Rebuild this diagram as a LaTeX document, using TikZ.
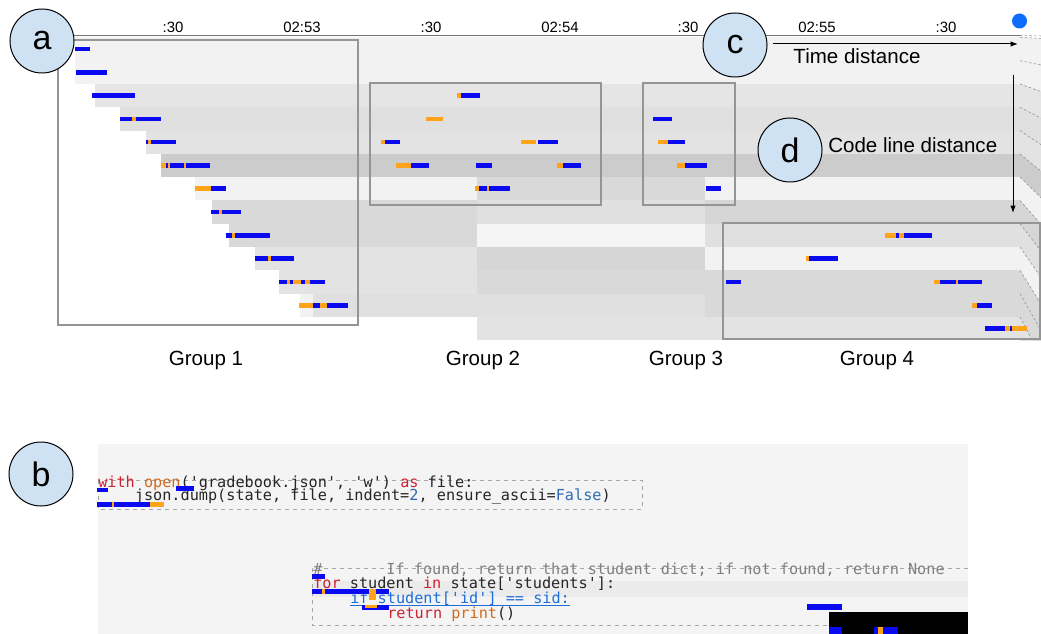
\documentclass[tikz,border=0pt]{standalone}
\usepackage{fontspec}
\setmainfont{Liberation Sans}
\newfontfamily\codefont{DejaVu Sans Mono}
\usepackage{tikz}
\usetikzlibrary{arrows.meta}
\definecolor{tlblue}{HTML}{0A0AF0}
\definecolor{tlorange}{HTML}{FFA319}
\definecolor{tlgrey}{HTML}{959595}
\definecolor{tlbadge}{HTML}{CFE2F3}
\definecolor{tldot}{HTML}{0D6EFD}
\definecolor{tlpanel}{HTML}{F4F4F4}
\definecolor{tlkey}{HTML}{CC2233}
\definecolor{tlfun}{HTML}{D2691E}
\definecolor{tlnum}{HTML}{2E6DB4}
\definecolor{tlcomment}{HTML}{808080}
\definecolor{tlcond}{HTML}{1E6FD9}
\newcommand{\rowc}[1]{(49+23.3*(#1-1))}
\newcommand{\tlband}[4]{\fill[black!#4] (#1,{37.4+23.3*(#3-1)}) rectangle (#2,{37.4+23.3*#3});}
\newcommand{\tlb}[3]{\fill[tlblue] (#1,{\rowc{#3}-2.3}) rectangle (#2,{\rowc{#3}+2.3});}
\newcommand{\tlo}[3]{\fill[tlorange] (#1,{\rowc{#3}-2.3}) rectangle (#2,{\rowc{#3}+2.3});}
\newcommand{\sq}{\textquotesingle}
\tikzset{
  tick/.style={font=\fontsize{11.2}{13}\selectfont},
  caption/.style={font=\fontsize{15.4}{18}\selectfont},
  badge/.style={circle,draw=black,fill=tlbadge,line width=0.75pt,minimum size=48pt,font=\fontsize{25.5}{28}\selectfont},
  grpbox/.style={draw=tlgrey,line width=1.5pt},
  codeln/.style={anchor=base west,text=black!85,font=\codefont\fontsize{11.4}{13}\selectfont},
  codedash/.style={draw=black!35,line width=0.6pt,dash pattern=on 3pt off 3pt},
  distarrow/.style={-{Latex[length=5.5pt,width=4pt]},line width=0.75pt}
}
\begin{document}
\begin{tikzpicture}[x=0.75pt,y=-0.75pt, every node/.style={inner sep=0pt}]
\useasboundingbox (0,0) rectangle (1041,634);
\fill[white] (0,0) rectangle (1041,634);
\tlband{75}{1020}{1}{5}
\tlband{75}{1020}{2}{5}
\tlband{95}{1020}{3}{10}
\tlband{120}{1020}{4}{12}
\tlband{146}{1020}{5}{11}
\tlband{161}{1020}{6}{20}
\tlband{195}{477}{7}{5} \tlband{477}{705}{7}{15} \tlband{705}{1020}{7}{5}
\tlband{212}{477}{8}{15} \tlband{477}{705}{8}{12} \tlband{705}{1020}{8}{16}
\tlband{229}{477}{9}{15} \tlband{477}{705}{9}{4} \tlband{705}{1020}{9}{12}
\tlband{255}{477}{10}{11} \tlband{477}{705}{10}{16} \tlband{705}{1020}{10}{5}
\tlband{279}{477}{11}{11} \tlband{477}{705}{11}{15} \tlband{705}{1020}{11}{15}
\tlband{300}{313}{12}{5} \tlband{313}{477}{12}{12} \tlband{477}{705}{12}{12} \tlband{705}{1020}{12}{15}
\tlband{477}{1020}{13}{11}
\begin{scope}
\clip (1020,35) rectangle (1041,340);
\foreach \k/\s in {1/5,2/5,3/10,4/12,5/11,6/20,7/5,8/16,9/12,10/5,11/15,12/15,13/11}{
  \pgfmathsetmacro\yt{37.4+23.3*(\k-1)}
  \pgfmathsetmacro\yb{\yt+23.3}
  \fill[black!\s] (1020,\yt) -- (1041,{\yt+1+0.14*(\yt-37)}) -- (1041,{\yb+1+0.14*(\yb-37)}) -- (1020,\yb) -- cycle;
  \draw[black!45,line width=0.4pt,dash pattern=on 2pt off 1.5pt] (1020,\yt) -- (1041,{\yt+1+0.14*(\yt-37)});
}
\end{scope}
\draw[black!55,line width=0.8pt] (58,35.5) -- (1020,35.5);
\draw[black!45,line width=0.4pt,dash pattern=on 2pt off 1.5pt] (1020,35.5) -- (1041,36);
\foreach \x/\t [count=\i] in {173/:30,302/02:53,431/:30,560/02:54,688/:30,817/02:55,946/:30}
  \node[tick] (tk\i) at (\x,27) {\t};
\node[circle,fill=tldot,minimum size=11.25pt] (now) at (1019.5,21) {};
\tlb{75}{90}{1}
\tlb{76}{107}{2}
\tlb{92}{135}{3}
\tlb{120}{161}{4} \tlo{132}{136}{4}
\tlb{146}{176}{5} \tlo{148}{151}{5}
\tlb{161}{210}{6} \tlo{161}{166}{6} \tlo{168}{170}{6} \tlo{184}{186}{6}
\tlo{195}{211}{7} \tlb{211}{226}{7}
\tlb{211}{241}{8} \tlo{219}{222}{8}
\tlb{226}{270}{9} \tlo{232}{235}{9}
\tlb{255}{294}{10} \tlo{268}{271}{10}
\tlb{279}{325}{11} \tlo{287}{290}{11} \tlo{293}{301}{11} \tlo{305}{310}{11}
\tlo{299}{313}{12} \tlb{313}{348}{12} \tlo{320}{327}{12}
\tlo{457}{461}{3} \tlb{461}{480}{3}
\tlo{426}{443}{4}
\tlo{381}{385}{5} \tlb{385}{400}{5} \tlo{521}{536}{5} \tlb{538}{558}{5}
\tlo{396}{411}{6} \tlb{411}{429}{6} \tlb{476}{492}{6} \tlo{557}{563}{6} \tlb{563}{581}{6}
\tlo{475}{479}{7} \tlb{479}{487}{7} \tlo{487}{489}{7} \tlb{489}{510}{7}
\tlb{653}{672}{4}
\tlo{658}{668}{5} \tlb{668}{685}{5}
\tlo{677}{685}{6} \tlb{685}{707}{6}
\tlb{706}{721}{7}
\tlo{885}{904}{9} \tlb{896}{899}{9} \tlb{904}{932}{9}
\tlo{806}{809}{10} \tlb{809}{838}{10}
\tlb{726}{741}{11} \tlo{934}{940}{11} \tlb{940}{982}{11} \tlo{956}{958}{11}
\tlo{972}{977}{12} \tlb{977}{992}{12}
\tlb{985}{1005}{13} \tlo{1005}{1027}{13} \tlb{1010}{1012}{13}
\draw[grpbox] (58,40) rectangle (358,325);
\draw[grpbox] (370,83) rectangle (601,205);
\draw[grpbox] (643,83) rectangle (735,205);
\draw[grpbox] (723,223) rectangle (1039.5,339);
\foreach \x/\g in {206/1,483/2,686/3,877/4}
  \node[caption] (grp\g) at (\x,360) {Group \g};
\coordinate (tdA) at (773,44);
\coordinate (tdB) at (1018,44);
\draw[distarrow] (tdA) -- (tdB);
\node[caption] (tdlbl) at (857,56) {Time distance};
\coordinate (cdA) at (1013,75);
\coordinate (cdB) at (1013,213);
\draw[distarrow] (cdA) -- (cdB);
\node[caption,anchor=west] (cdlbl) at (828,145) {Code line distance};
\fill[tlpanel] (98,444) rectangle (968,634);
\fill[black!8] (312,581) rectangle (968,597);
\draw[codedash] (98,480) rectangle (642,509);
\draw[codedash] (968,568) -- (312,568) -- (312,625) -- (829,625);
\node[codeln] (cw1) at (98,487.5) {\textcolor{tlkey}{with} \textcolor{tlfun}{open}(\sq gradebook.json\sq, \sq w\sq) \textcolor{tlkey}{as} file:};
\node[codeln] (cw2) at (98,500.5) {\hphantom{0000}json.dump(state, file, indent=\textcolor{tlnum}{2}, ensure\_ascii=\textcolor{tlnum}{False})};
\node[codeln,text=tlcomment] (cs0) at (313,574) {\#\hphantom{0000000}If found, return that student dict; if not found, return None};
\node[codeln] (cs1) at (313,588.5) {\textcolor{tlkey}{for} student \textcolor{tlkey}{in} state[\sq students\sq]:};
\node[codeln,text=tlcond] (cs2) at (350,603.5) {if student[\sq id\sq] == sid:};
\draw[tlcond,line width=0.6pt] ([yshift=-1.6pt]cs2.base west) -- ([yshift=-1.6pt]cs2.base east);
\node[codeln] (cs3) at (387,618.5) {\textcolor{tlkey}{return} \textcolor{tlfun}{print}()};
\fill[tlblue] (97,488) rectangle (108,492);
\fill[tlblue] (176,486) rectangle (194,491);
\fill[tlblue] (97,502) rectangle (150,507);
\fill[tlorange] (112,502) rectangle (114,507);
\fill[tlorange] (150,502) rectangle (164,507);
\fill[tlblue] (312,574) rectangle (325,579);
\fill[tlblue] (312,589) rectangle (389,594);
\fill[tlorange] (322,589) rectangle (325,594);
\fill[tlorange] (369,589) rectangle (376,600);
\fill[tlblue] (362,605) rectangle (389,610);
\fill[tlorange] (365,605) rectangle (377,608);
\fill[tlblue] (807,604) rectangle (842,610);
\fill[black] (829,612) rectangle (968,634);
\fill[tlblue] (829,627) rectangle (842,634);
\fill[tlblue] (874,627) rectangle (898,634);
\fill[tlorange] (878,627) rectangle (883,634);
\node[badge] (ba) at (42,41) {a};
\node[badge] (bb) at (41,474) {b};
\node[badge] (bc) at (735,45) {c};
\node[badge] (bd) at (790,150) {d};
\end{tikzpicture}
\end{document}
